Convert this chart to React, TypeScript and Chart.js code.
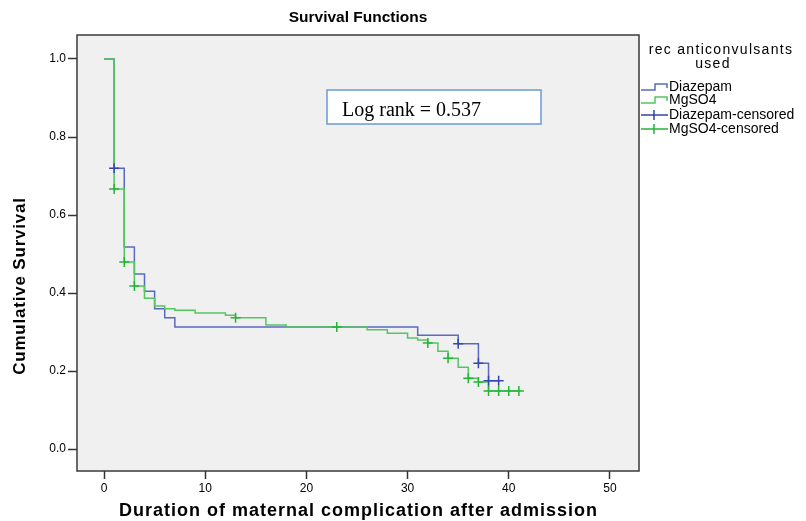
import React, { useEffect, useRef } from 'react';
import { Chart, registerables } from 'chart.js';

Chart.register(...registerables);

// ---- Data ----
const diazepamTimes = [0, 1, 2, 3, 4, 5, 6, 7, 31, 35, 37, 38, 39];
const diazepamSurvival = [1.0, 0.72, 0.518, 0.449, 0.405, 0.36, 0.337, 0.313, 0.292, 0.27, 0.22, 0.175, 0.175];

const mgso4Times = [0, 1, 2, 3, 4, 5, 6, 7, 9, 12, 13, 16, 18, 26, 28, 30, 31, 32, 33, 34, 35, 36, 37, 38, 41];
const mgso4Survival = [1.0, 0.667, 0.48, 0.418, 0.387, 0.367, 0.36, 0.356, 0.349, 0.343, 0.337, 0.318, 0.313, 0.306, 0.297, 0.285, 0.28, 0.272, 0.251, 0.233, 0.21, 0.182, 0.172, 0.149, 0.149];

const diazepamCensoredTimes = [1, 35, 37, 38, 39];
const diazepamCensoredSurvival = [0.72, 0.27, 0.22, 0.175, 0.175];

const mgso4CensoredTimes = [1, 2, 3, 13, 23, 32, 34, 36, 37, 38, 39, 40, 41];
const mgso4CensoredSurvival = [0.667, 0.48, 0.418, 0.337, 0.313, 0.272, 0.233, 0.182, 0.172, 0.149, 0.149, 0.149, 0.149];

const xTickValues = [0, 10, 20, 30, 40, 50];
const yTickValues = [0, 0.2, 0.4, 0.6, 0.8, 1.0];

const chartTitle = 'Survival Functions';
const xAxisTitle = 'Duration of maternal complication after admission';
const yAxisTitle = 'Cumulative Survival';
const legendTitleLines = ['rec anticonvulsants', 'used'];
const legendLabels = ['Diazepam', 'MgSO4', 'Diazepam-censored', 'MgSO4-censored'];
const annotationText = 'Log rank = 0.537';

const BLUE_LINE = '#5a69c0';
const GREEN_LINE = '#55c562';
const BLUE_MARK = '#3345ab';
const GREEN_MARK = '#22b535';
const SANS = '"Liberation Sans", Arial, sans-serif';

const toPoints = (xs: number[], ys: number[]) => xs.map((x, i) => ({ x, y: ys[i] }));

const decorPlugin = {
  id: 'decor',
  beforeDraw(chart: any) {
    const { ctx, chartArea } = chart;
    ctx.save();
    ctx.fillStyle = '#ffffff';
    ctx.fillRect(0, 0, chart.width, chart.height);
    ctx.fillStyle = '#f0f0f0';
    ctx.fillRect(chartArea.left, chartArea.top, chartArea.right - chartArea.left, chartArea.bottom - chartArea.top);
    ctx.restore();
  },
  afterDraw(chart: any) {
    const { ctx, chartArea } = chart;
    const { left, right, top, bottom } = chartArea;
    ctx.save();
    // plot border
    ctx.strokeStyle = '#3a3a3a';
    ctx.lineWidth = 1.5;
    ctx.strokeRect(left, top, right - left, bottom - top);

    // chart title
    ctx.fillStyle = '#000';
    ctx.textAlign = 'center';
    ctx.textBaseline = 'middle';
    ctx.font = `bold 15.5px ${SANS}`;
    ctx.fillText(chartTitle, (left + right) / 2, 18);

    // x axis title
    ctx.font = `bold 18px ${SANS}`;
    (ctx as any).letterSpacing = '1px';
    ctx.fillText(xAxisTitle, (left + right) / 2 + 0.5, 511);

    // y axis title
    ctx.save();
    ctx.translate(20, 286);
    ctx.rotate(-Math.PI / 2);
    ctx.font = `bold 17px ${SANS}`;
    (ctx as any).letterSpacing = '0.8px';
    ctx.fillText(yAxisTitle, 0, 0);
    ctx.restore();

    // legend title
    ctx.font = `14px ${SANS}`;
    (ctx as any).letterSpacing = '1.3px';
    ctx.fillText(legendTitleLines[0], 721, 50);
    ctx.fillText(legendTitleLines[1], 713, 64);
    (ctx as any).letterSpacing = '0px';

    // legend entries
    const ys = [87, 100, 115, 129];
    const colors = [BLUE_LINE, GREEN_LINE, BLUE_MARK, GREEN_MARK];
    ctx.textAlign = 'left';
    ctx.font = `14px ${SANS}`;
    legendLabels.forEach((label, i) => {
      const y = ys[i];
      ctx.strokeStyle = colors[i];
      ctx.lineWidth = 1.5;
      ctx.beginPath();
      if (i < 2) {
        ctx.moveTo(641, y + 3);
        ctx.lineTo(655, y + 3);
        ctx.lineTo(655, y - 3);
        ctx.lineTo(667, y - 3);
        ctx.lineTo(667, y + 1);
      } else {
        ctx.moveTo(641, y);
        ctx.lineTo(668, y);
        ctx.moveTo(654, y - 5);
        ctx.lineTo(654, y + 5);
      }
      ctx.stroke();
      ctx.fillStyle = '#000';
      ctx.fillText(label, 669, y);
    });

    // log rank annotation box
    ctx.fillStyle = '#ffffff';
    ctx.fillRect(327, 90, 214, 34);
    ctx.strokeStyle = '#6b98d2';
    ctx.lineWidth = 1.5;
    ctx.strokeRect(327, 90, 214, 34);
    ctx.fillStyle = '#000';
    ctx.textAlign = 'left';
    ctx.textBaseline = 'alphabetic';
    ctx.font = `20px "Liberation Serif", "Times New Roman", serif`;
    ctx.fillText(annotationText, 342, 116);
    ctx.restore();
  },
};

export default function App() {
  const canvasRef = useRef<HTMLCanvasElement | null>(null);

  useEffect(() => {
    document.body.style.margin = '0';
    const canvas = canvasRef.current;
    if (!canvas) return;
    const chart = new Chart(canvas, {
      type: 'line',
      data: {
        datasets: [
          {
            label: 'Diazepam',
            data: toPoints(diazepamTimes, diazepamSurvival),
            borderColor: BLUE_LINE,
            borderWidth: 1.5,
            stepped: 'before',
            pointRadius: 0,
            fill: false,
            order: 4,
          },
          {
            label: 'MgSO4',
            data: toPoints(mgso4Times, mgso4Survival),
            borderColor: GREEN_LINE,
            borderWidth: 1.5,
            stepped: 'before',
            pointRadius: 0,
            fill: false,
            order: 3,
          },
          {
            label: 'Diazepam-censored',
            data: toPoints(diazepamCensoredTimes, diazepamCensoredSurvival),
            showLine: false,
            pointStyle: 'cross',
            pointRadius: 5,
            pointBorderWidth: 1.5,
            pointBorderColor: BLUE_MARK,
            borderColor: BLUE_MARK,
            order: 2,
          },
          {
            label: 'MgSO4-censored',
            data: toPoints(mgso4CensoredTimes, mgso4CensoredSurvival),
            showLine: false,
            pointStyle: 'cross',
            pointRadius: 5,
            pointBorderWidth: 1.5,
            pointBorderColor: GREEN_MARK,
            borderColor: GREEN_MARK,
            order: 1,
          },
        ],
      },
      options: {
        responsive: false,
        animation: false,
        devicePixelRatio: 1,
        layout: { padding: { top: 35, right: 167, left: 0, bottom: 0 } },
        plugins: {
          legend: { display: false },
          title: { display: false },
          tooltip: { enabled: false },
        },
        scales: {
          x: {
            type: 'linear',
            min: -2.67,
            max: 52.87,
            afterBuildTicks: (scale: any) => {
              scale.ticks = xTickValues.map((v) => ({ value: v }));
            },
            afterFit: (scale: any) => {
              scale.height = 50;
            },
            border: { display: false },
            grid: {
              display: true,
              drawOnChartArea: false,
              drawTicks: true,
              tickLength: 8,
              tickColor: '#333',
              tickWidth: 1.5,
            },
            ticks: {
              color: '#000',
              font: { family: SANS, size: 12 },
              padding: 2,
              maxRotation: 0,
              callback: (v: any) => String(v),
            },
          },
          y: {
            type: 'linear',
            min: -0.056,
            max: 1.0615,
            afterBuildTicks: (scale: any) => {
              scale.ticks = yTickValues.map((v) => ({ value: v }));
            },
            afterFit: (scale: any) => {
              scale.width = 77;
            },
            border: { display: false },
            grid: {
              display: true,
              drawOnChartArea: false,
              drawTicks: true,
              tickLength: 9,
              tickColor: '#333',
              tickWidth: 1.5,
            },
            ticks: {
              color: '#000',
              font: { family: SANS, size: 12 },
              padding: 2,
              callback: (v: any) => Number(v).toFixed(1),
            },
          },
        },
      },
      plugins: [decorPlugin],
    });
    return () => chart.destroy();
  }, []);

  return (
    <div style={{ width: 806, height: 521 }}>
      <canvas ref={canvasRef} width={806} height={521} style={{ display: 'block', width: 806, height: 521 }} />
    </div>
  );
}
